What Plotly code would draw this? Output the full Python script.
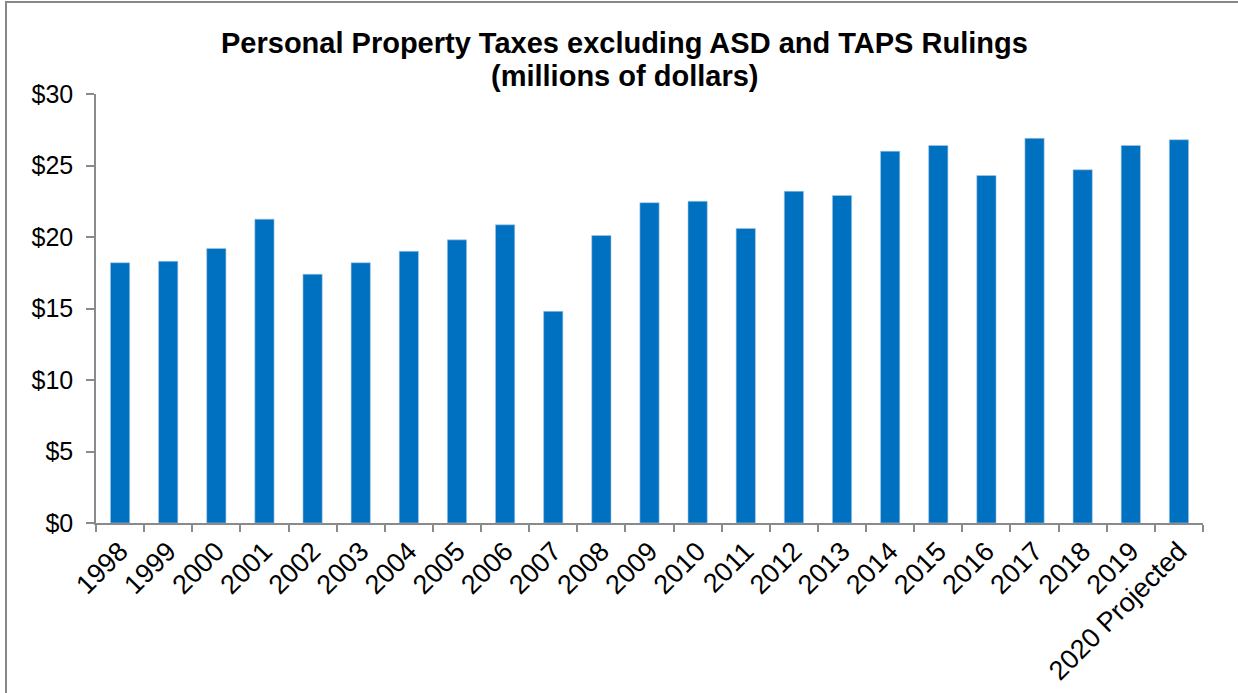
import plotly.graph_objects as go

categories = ["1998", "1999", "2000", "2001", "2002", "2003", "2004", "2005",
              "2006", "2007", "2008", "2009", "2010", "2011", "2012", "2013",
              "2014", "2015", "2016", "2017", "2018", "2019", "2020 Projected"]
values = [18.2, 18.3, 19.2, 21.25, 17.4, 18.2, 19.0, 19.8,
          20.85, 14.8, 20.1, 22.4, 22.5, 20.6, 23.2, 22.9,
          26.0, 26.4, 24.3, 26.9, 24.7, 26.4, 26.8]
y_ticks = [0, 5, 10, 15, 20, 25, 30]
y_tick_labels = ["$0", "$5", "$10", "$15", "$20", "$25", "$30"]
title_lines = ["Personal Property Taxes excluding ASD and TAPS Rulings",
               "(millions of dollars)"]

FONT = "Liberation Sans, Arial, sans-serif"
AXIS_COLOR = "#8a8a8a"

W, H = 1238, 693
L, T, PW, PH = 96, 94, 1107, 429


def px_to_paper(px, py):
    return (px - L) / PW, (T + PH - py) / PH


fig = go.Figure(go.Bar(
    x=categories,
    y=values,
    marker=dict(color="#0070C0", line=dict(color="#a9c8e8", width=0.6)),
))

tx, ty1 = px_to_paper(624, 43)
_, ty2 = px_to_paper(624, 76)
bx0, by1 = px_to_paper(6, 2)

fig.update_layout(
    width=W, height=H,
    paper_bgcolor="white", plot_bgcolor="white",
    margin=dict(l=L, r=W - L - PW, t=T, b=H - T - PH, autoexpand=False),
    bargap=0.6,
    showlegend=False,
    font=dict(family=FONT, color="black"),
    annotations=[
        dict(text="<b>%s</b>" % title_lines[0], xref="paper", yref="paper",
             x=tx, y=ty1, xanchor="center", yanchor="middle", showarrow=False,
             font=dict(family=FONT, size=29, color="black")),
        dict(text="<b>%s</b>" % title_lines[1], xref="paper", yref="paper",
             x=tx, y=ty2, xanchor="center", yanchor="middle", showarrow=False,
             font=dict(family=FONT, size=29, color="black")),
    ],
    xaxis=dict(
        type="category",
        range=[-0.5, len(categories) - 0.5],
        tickson="boundaries",
        ticks="outside", ticklen=7, tickwidth=1.5, tickcolor=AXIS_COLOR,
        showline=True, linecolor=AXIS_COLOR, linewidth=1.5,
        showgrid=False,
        tickangle=-45,
        automargin=False,
        tickfont=dict(family=FONT, size=27, color="black"),
    ),
    yaxis=dict(
        range=[0, 30],
        tickmode="array",
        tickvals=y_ticks,
        ticktext=y_tick_labels,
        ticks="outside", ticklen=8, tickwidth=1.5, tickcolor=AXIS_COLOR,
        showline=True, linecolor=AXIS_COLOR, linewidth=1.5,
        showgrid=False, zeroline=False,
        automargin=False,
        tickfont=dict(family=FONT, size=25, color="black"),
        ticklabelstandoff=8,
    ),
    shapes=[dict(
        type="rect", xref="paper", yref="paper",
        x0=bx0, x1=1.2,
        y0=-0.6, y1=by1,
        line=dict(color="#888888", width=2),
        fillcolor="rgba(0,0,0,0)",
        layer="below",
    )],
)

fig.write_html("out.html", config={"displayModeBar": False},
               post_script="document.body.style.margin='0';")
